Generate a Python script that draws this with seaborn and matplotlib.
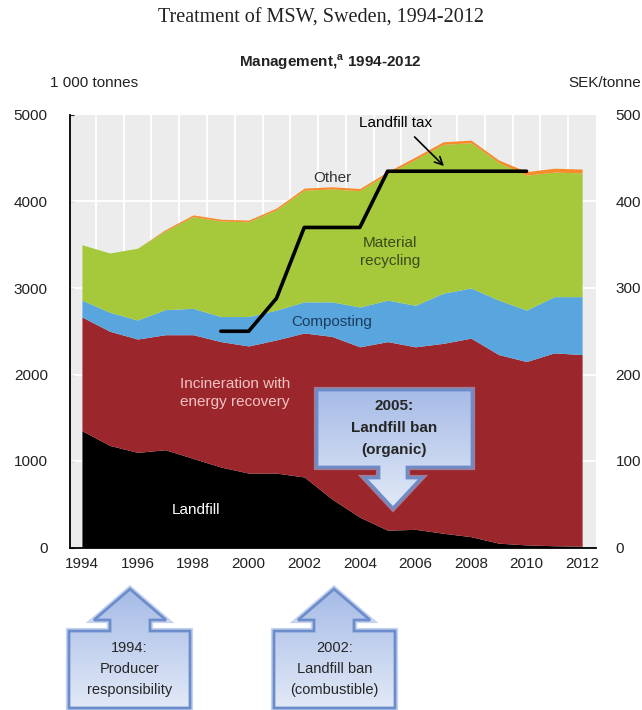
import numpy as np
import pandas as pd
import matplotlib
matplotlib.use("Agg")
import matplotlib.pyplot as plt
from matplotlib.patches import Polygon
from matplotlib.colors import LinearSegmentedColormap
import seaborn as sns

# data, 1 000 tonnes
years = list(range(1994, 2013))
landfill = [1350, 1180, 1100, 1130, 1030, 930, 860, 860, 815, 560,
            350, 200, 210, 165, 125, 50, 30, 20, 15]
incineration = [1315, 1320, 1310, 1330, 1430, 1450, 1470, 1540, 1665, 1880,
                 1970, 2180, 2110, 2195, 2295, 2180, 2120, 2230, 2215]
composting = [195, 220, 220, 290, 305, 290, 340, 345, 360, 400,
              460, 480, 480, 580, 580, 630, 595, 650, 670]
recycling = [640, 685, 830, 910, 1060, 1105, 1095, 1160, 1290, 1305,
             1345, 1460, 1685, 1720, 1680, 1590, 1560, 1440, 1430]
other = [0, 0, 0, 15, 20, 20, 20, 20, 25, 25,
         25, 25, 30, 30, 30, 30, 40, 45, 45]

# landfill tax, SEK/tonne
tax_years = list(range(1999, 2011))
tax = [250, 250, 288, 370, 370, 370, 435, 435, 435, 435, 435, 435]

layer_colors = ["#000000", "#9b262b", "#58a6dd", "#a5c93a", "#f58b2b"]

sns.set_style("white")
plt.rcParams['font.family'] = ['Liberation Sans', 'DejaVu Sans']

W, H = 642, 710
fig = plt.figure(figsize=(W / 100, H / 100), dpi=100)

ax = fig.add_axes([70 / W, 1 - 547.5 / H, (596 - 70) / W, (547.5 - 115) / H])
ax.set_facecolor("#ececec")
ax.stackplot(years, landfill, incineration, composting, recycling, other,
             colors=layer_colors, linewidth=0, zorder=2)
ax.set_xlim(1993.57, 2012.47)
ax.set_ylim(0, 5000)
ax.set_yticks(range(0, 5001, 1000))
ax.set_xticks(range(1994, 2013, 2))
ax.set_xticks(np.arange(1994.5, 2012.6, 1), minor=True)
ax.grid(False)
for gx in np.arange(1994.5, 2012.0, 1):
    ax.axvline(gx, color="white", lw=1.3, zorder=1)
for gy in range(1000, 5000, 1000):
    ax.axhline(gy, color="white", lw=1.3, zorder=1)
for s in ["top", "right"]:
    ax.spines[s].set_visible(False)
for s in ["left", "bottom"]:
    ax.spines[s].set_color("black")
    ax.spines[s].set_linewidth(1.3)
ax.tick_params(axis="y", direction="in", length=3, pad=16, labelsize=11, labelcolor="#222222")
ax.tick_params(axis="x", which="major", length=0, pad=7, labelsize=11, labelcolor="#222222")
ax.tick_params(axis="x", which="minor", direction="in", length=3)

ax2 = ax.twinx()
sns.lineplot(x=tax_years, y=tax, color="black", lw=2.6, ax=ax2, zorder=5)
ax2.set_ylim(0, 500)
ax2.set_yticks(range(0, 501, 100))
ax2.tick_params(axis="y", length=0, pad=14, labelsize=11, labelcolor="#222222")
for s in ax2.spines.values():
    s.set_visible(False)

# labels inside the chart
ax.text(2003.0, 4272, "Other", ha="center", va="center", fontsize=11, color="#333333", zorder=6)
ax.text(2005.3, 4907, "Landfill tax", ha="center", va="center", fontsize=11, color="black", zorder=6)
ax.annotate("", xy=(2007.1, 4387), xytext=(2005.9, 4769),
            arrowprops=dict(arrowstyle="->", color="black", lw=1.2,
                            mutation_scale=14), zorder=6)
ax.text(2005.1, 3416, "Material\nrecycling", ha="center", va="center", fontsize=11,
        color="#3b4a1c", linespacing=1.3, zorder=6)
ax.text(2003.0, 2607, "Composting", ha="center", va="center", fontsize=11, color="#1d3c5e", zorder=6)
ax.text(1999.5, 1786, "Incineration with\nenergy recovery", ha="center", va="center",
        fontsize=11, color="#f3c4c4", linespacing=1.3, zorder=6)
ax.text(1998.1, 434, "Landfill", ha="center", va="center", fontsize=11, color="white", zorder=6)

# overlay in pixel units for titles and callouts
ov = fig.add_axes([0, 0, 1, 1])
ov.set_xlim(0, W)
ov.set_ylim(H, 0)
ov.axis("off")
ov.patch.set_alpha(0)

ov.text(W / 2, 18, "Treatment of MSW, Sweden, 1994-2012", ha="center", va="center",
        fontsize=14.5, family=["Liberation Serif", "DejaVu Serif"], color="#222222")
ov.text(330, 62, "Management,$^{\\mathregular{a}}$ 1994-2012", ha="center", va="center",
        fontsize=11, fontweight="bold", color="#222222")
ov.text(50, 83, "1 000 tonnes", ha="left", va="center", fontsize=11, color="#222222")
ov.text(W - 1, 83, "SEK/tonne", ha="right", va="center", fontsize=11, color="#222222")

grad = LinearSegmentedColormap.from_list("callout", ["#a6bbe6", "#e2e9f7"])


def callout(pts, lines, line_y, bold=False, size=10.5):
    pts = np.array(pts, dtype=float)
    ov.add_patch(Polygon(pts, closed=True, facecolor="none", edgecolor="#9fb6e2",
                         lw=4.5, alpha=0.6, zorder=3, joinstyle="miter"))
    clip = Polygon(pts, closed=True, facecolor="none", edgecolor="none", zorder=3)
    ov.add_patch(clip)
    x0, x1 = pts[:, 0].min(), pts[:, 0].max()
    y0, y1 = pts[:, 1].min(), pts[:, 1].max()
    img = ov.imshow(np.linspace(0, 1, 100).reshape(-1, 1), cmap=grad, aspect="auto",
                    extent=(x0, x1, y1, y0), zorder=3.5, interpolation="bilinear")
    img.set_clip_path(clip)
    ov.add_patch(Polygon(pts, closed=True, facecolor="none", edgecolor="#6c8dcb",
                         lw=2.0, zorder=4, joinstyle="miter"))
    for txt, ty in zip(lines, line_y):
        ov.text((x0 + x1) / 2, ty, txt, ha="center", va="center", fontsize=size,
                fontweight="bold" if bold else "normal", color="#262626", zorder=5)


def down_arrow(cx, bx0, bx1, by0, by1, tip_y, head_y, sh, hh):
    return [(bx0, by0), (bx1, by0), (bx1, by1), (cx + sh, by1), (cx + sh, head_y),
            (cx + hh, head_y), (cx, tip_y), (cx - hh, head_y), (cx - sh, head_y),
            (cx - sh, by1), (bx0, by1)]


def up_arrow(cx, bx0, bx1, by0, by1, tip_y, head_y, sh, hh):
    return [(cx, tip_y), (cx + hh, head_y), (cx + sh, head_y), (cx + sh, by0),
            (bx1, by0), (bx1, by1), (bx0, by1), (bx0, by0), (cx - sh, by0),
            (cx - sh, head_y), (cx - hh, head_y)]


callout(down_arrow(393, 317, 472, 390, 467, 508, 478, 14, 28),
        ["2005:", "Landfill ban", "(organic)"], [406, 428, 450], bold=True, size=11)
callout(up_arrow(130, 69, 190, 631, 708, 589, 620, 20, 36),
        ["1994:", "Producer", "responsibility"], [648, 669, 690])
callout(up_arrow(334, 274, 395, 631, 708, 589, 620, 20, 36),
        ["2002:", "Landfill ban", "(combustible)"], [648, 669, 690])

fig.savefig("out.png", dpi=100)
